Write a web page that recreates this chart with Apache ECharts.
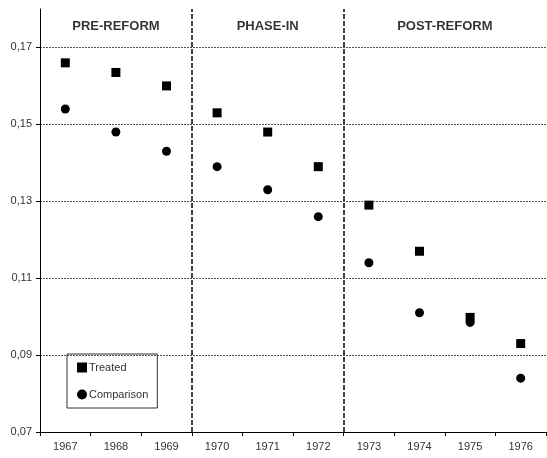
<!DOCTYPE html>
<html>
<head>
<meta charset="utf-8">
<script src="https://cdn.jsdelivr.net/npm/echarts@6/dist/echarts.min.js"></script>
<style>
  html, body { margin: 0; padding: 0; background: #fff; }
  #chart { width: 547px; height: 458px; }
</style>
</head>
<body>
<div id="chart"></div>
<script>
var years = ['1967', '1968', '1969', '1970', '1971', '1972', '1973', '1974', '1975', '1976'];
var treated = [0.166, 0.1635, 0.160, 0.153, 0.148, 0.139, 0.129, 0.117, 0.0998, 0.093];
var comparison = [0.154, 0.148, 0.143, 0.139, 0.133, 0.126, 0.114, 0.101, 0.0985, 0.084];
var phaseBounds = [3, 6];   // category boundaries (between 1969/1970 and 1972/1973)
var phaseNames = ['PRE-REFORM', 'PHASE-IN', 'POST-REFORM'];
var phaseCenters = [1.5, 4.5, 8];

var chart = echarts.init(document.getElementById('chart'));

var option = {
  animation: false,
  textStyle: { fontFamily: 'Liberation Sans, Arial, sans-serif' },
  grid: { left: 40, right: 1, top: 9, bottom: 26 },
  legend: {
    orient: 'vertical',
    left: 67,
    top: 354,
    padding: [8, 9, 8, 10],
    itemGap: 16,
    itemWidth: 10,
    itemHeight: 10,
    itemStyle: { borderWidth: 0, opacity: 1 },
    borderColor: '#333',
    borderWidth: 1,
    borderRadius: 0,
    textStyle: { fontSize: 11, color: '#333', padding: [0, 0, 0, -3] },
    data: [
      { name: 'Treated', icon: 'rect' },
      { name: 'Comparison', icon: 'circle' }
    ]
  },
  xAxis: [
    {
      type: 'category',
      data: years,
      boundaryGap: true,
      axisLine: { lineStyle: { color: '#000', width: 1 } },
      axisTick: { show: true, length: 4, lineStyle: { color: '#000' } },
      axisLabel: { fontSize: 11, color: '#333', margin: 9 },
      splitLine: { show: false }
    },
    {
      type: 'value',
      min: 0,
      max: 10,
      show: false
    }
  ],
  yAxis: {
    type: 'value',
    min: 0.07,
    max: 0.18,
    interval: 0.02,
    axisLine: { show: true, lineStyle: { color: '#000', width: 1 } },
    axisTick: { show: true, length: 4, lineStyle: { color: '#000' } },
    axisLabel: {
      fontSize: 11,
      color: '#333',
      margin: 8,
      showMaxLabel: false,
      formatter: function (v) {
        if (Math.abs(v - 0.18) < 1e-6) return '';
        return v.toFixed(2).replace('.', ',');
      }
    },
    splitLine: {
      show: true,
      showMaxLine: false,
      lineStyle: { color: '#555', type: [2, 1], width: 1 }
    }
  },
  series: [
    {
      name: 'Treated',
      type: 'scatter',
      symbol: 'rect',
      symbolSize: 9,
      itemStyle: { color: '#000', opacity: 1 },
      data: treated
    },
    {
      name: 'Comparison',
      type: 'scatter',
      symbol: 'circle',
      symbolSize: 9,
      itemStyle: { color: '#000', opacity: 1 },
      data: comparison
    },
    {
      name: 'dividers',
      type: 'scatter',
      xAxisIndex: 1,
      data: [],
      silent: true,
      markLine: {
        silent: true,
        symbol: 'none',
        label: { show: false },
        lineStyle: { color: '#000', type: [5, 2], width: 1.5 },
        data: phaseBounds.map(function (b) { return { xAxis: b }; })
      }
    },
    {
      name: 'phases',
      type: 'scatter',
      xAxisIndex: 1,
      silent: true,
      symbolSize: 0,
      data: phaseCenters.map(function (c, i) { return { value: [c, 0.1755], name: phaseNames[i] }; }),
      label: {
        show: true,
        position: 'inside',
        formatter: function (p) { return p.name; },
        fontSize: 13,
        fontWeight: 'bold',
        color: '#000'
      }
    }
  ]
};

chart.setOption(option);
</script>
</body>
</html>
